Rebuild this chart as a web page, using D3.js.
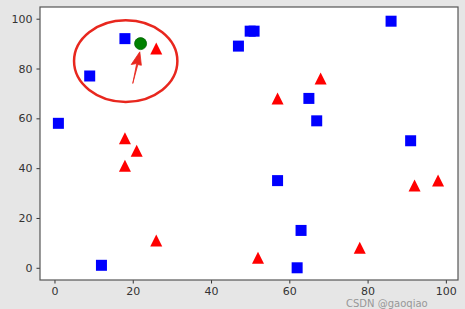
<!DOCTYPE html>
<html>
<head>
<meta charset="utf-8">
<script src="https://cdn.jsdelivr.net/npm/d3@7"></script>
<style>
  body { margin: 0; background: #e6e6e6; }
  svg { display: block; font-family: "DejaVu Sans", sans-serif; }
</style>
</head>
<body>
<div id="wrapper"></div>
<script>
// blue squares
const blueX = [1, 9, 18, 12, 47, 50, 51, 86, 65, 67, 91, 57, 63, 62];
const blueY = [58, 77, 92, 1, 89, 95, 95, 99, 68, 59, 51, 35, 15, 0];
// red triangles
const redX = [26, 18, 21, 18, 26, 57, 68, 52, 78, 92, 98];
const redY = [88, 52, 47, 41, 11, 68, 76, 4, 8, 33, 35];
// green point
const greenX = [22];
const greenY = [90];
const xTicks = [0, 20, 40, 60, 80, 100];
const yTicks = [0, 20, 40, 60, 80, 100];

function build() {
  const dimension = {
    width: 465,
    height: 309,
    margin: { top: 7, right: 7, bottom: 29, left: 40 },
  };
  dimension.boundedWidth = dimension.width - dimension.margin.left - dimension.margin.right;
  dimension.boundedHeight = dimension.height - dimension.margin.top - dimension.margin.bottom;

  const svg = d3.select("#wrapper")
    .append("svg")
    .attr("width", dimension.width)
    .attr("height", dimension.height);

  const bounds = svg.append("g")
    .attr("transform", `translate(${dimension.margin.left},${dimension.margin.top})`);

  const x = d3.scaleLinear().domain([-3.7, 103.1]).range([0, dimension.boundedWidth]);
  const y = d3.scaleLinear().domain([-4.9, 104.7]).range([dimension.boundedHeight, 0]);

  bounds.append("rect")
    .attr("width", dimension.boundedWidth)
    .attr("height", dimension.boundedHeight)
    .attr("fill", "#fff");

  const xAxis = bounds.append("g")
    .attr("transform", `translate(0,${dimension.boundedHeight})`)
    .call(d3.axisBottom(x).tickValues(xTicks).tickSize(3.5).tickPadding(4).tickFormat(d3.format("d")));
  const yAxis = bounds.append("g")
    .call(d3.axisLeft(y).tickValues(yTicks).tickSize(3.5).tickPadding(4).tickFormat(d3.format("d")));
  [xAxis, yAxis].forEach(a => {
    a.select(".domain").remove();
    a.selectAll("line").attr("stroke", "#333");
    a.selectAll("text").attr("fill", "#333").style("font-size", "11px").style("font-family", "DejaVu Sans, sans-serif");
  });

  bounds.append("rect")
    .attr("width", dimension.boundedWidth)
    .attr("height", dimension.boundedHeight)
    .attr("fill", "none")
    .attr("stroke", "#555")
    .attr("stroke-width", 1.2);

  const blue = blueX.map((d, i) => ({ x: d, y: blueY[i] }));
  const red = redX.map((d, i) => ({ x: d, y: redY[i] }));
  const green = greenX.map((d, i) => ({ x: d, y: greenY[i] }));

  bounds.selectAll("rect.sq")
    .data(blue)
    .enter()
    .append("rect")
    .attr("class", "sq")
    .attr("x", d => x(d.x) - 5.5)
    .attr("y", d => y(d.y) - 5.5)
    .attr("width", 11)
    .attr("height", 11)
    .attr("fill", "#0000ff");

  bounds.selectAll("path.tri")
    .data(red)
    .enter()
    .append("path")
    .attr("class", "tri")
    .attr("d", d => `M${x(d.x)},${y(d.y) - 6}L${x(d.x) - 6},${y(d.y) + 6}L${x(d.x) + 6},${y(d.y) + 6}Z`)
    .attr("fill", "#ff0000");

  bounds.selectAll("circle.pt")
    .data(green)
    .enter()
    .append("circle")
    .attr("class", "pt")
    .attr("cx", d => x(d.x))
    .attr("cy", d => y(d.y))
    .attr("r", 6)
    .attr("fill", "#008000")
    .attr("stroke", "#006400")
    .attr("stroke-width", 0.8);

  // hand drawn annotation: ellipse + arrow
  const ring = { cx: 18.2, cy: 83, rx: 13.2, ry: 16.4 };
  bounds.append("ellipse")
    .attr("cx", x(ring.cx))
    .attr("cy", y(ring.cy))
    .attr("rx", x(ring.rx) - x(0))
    .attr("ry", y(0) - y(ring.ry))
    .attr("fill", "none")
    .attr("stroke", "#e8271e")
    .attr("stroke-width", 2.5);

  const arrow = [[20.0, 74.0], [21.0, 82.0], [19.6, 81.6], [21.8, 86.7], [22.2, 81.3], [21.3, 81.6]];
  bounds.append("path")
    .attr("d", d3.line().x(d => x(d[0])).y(d => y(d[1])).curve(d3.curveLinearClosed)(arrow))
    .attr("fill", "#e8271e")
    .attr("stroke", "#e8271e")
    .attr("stroke-width", 0.8)
    .attr("stroke-linejoin", "round");

  svg.append("text")
    .attr("x", 346)
    .attr("y", 307)
    .text("CSDN @gaoqiao")
    .attr("fill", "#777")
    .attr("opacity", 0.7)
    .style("font-size", "10px");
}

build();
</script>
</body>
</html>
